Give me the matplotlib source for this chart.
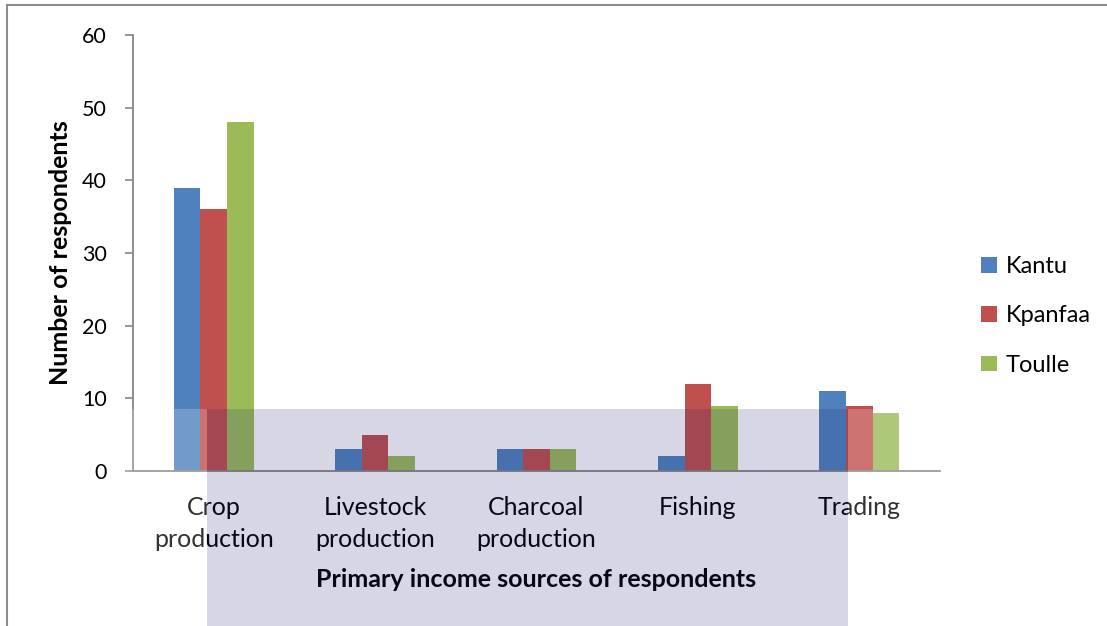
import numpy as np
import matplotlib.pyplot as plt
from matplotlib.patches import Rectangle
from matplotlib.lines import Line2D

# Chart data
categories = ['Crop\nproduction', 'Livestock\nproduction', 'Charcoal\nproduction', 'Fishing', 'Trading']
series_names = ['Kantu', 'Kpanfaa', 'Toulle']
kantu = [39, 3, 3, 2, 11]
kpanfaa = [36, 5, 3, 12, 9]
toulle = [48, 2, 3, 9, 8]
yticks = [0, 10, 20, 30, 40, 50, 60]

colors = ['#4F81BD', '#C0504D', '#9BBB59']
plt.rcParams['font.family'] = ['Lato', 'DejaVu Sans']

fig = plt.figure(figsize=(11.07, 6.26), dpi=100)
ax = fig.add_axes([133 / 1107, 1 - 471 / 626, (940 - 133) / 1107, (471 - 35) / 626])

x = np.arange(len(categories))
w = 0.165
for i, (vals, name) in enumerate(zip([kantu, kpanfaa, toulle], series_names)):
  ax.bar(x + (i - 1) * w, vals, width=w, color=colors[i], label=name, zorder=2)

ax.set_xlim(-0.5, len(categories) - 0.5)
ax.set_ylim(0, 60)
ax.set_yticks(yticks)
ax.set_xticks(x)
ax.set_xticklabels(categories, fontsize=18, linespacing=1.48)
ax.tick_params(axis='x', length=0, pad=18)
ax.tick_params(axis='y', length=6, width=1.2, color='#868686', pad=13, labelsize=15.5)

for s in ['top', 'right']:
  ax.spines[s].set_visible(False)
for s in ['left', 'bottom']:
  ax.spines[s].set_color('#868686')
  ax.spines[s].set_linewidth(1.3)

ax.set_ylabel('Number of respondents', fontsize=18, fontweight='bold', labelpad=7)
ax.set_xlabel('Primary income sources of respondents', fontsize=18, fontweight='bold', labelpad=12)

leg = ax.legend(loc='center left', bbox_to_anchor=(960 / 1107, 1 - 316 / 626),
                bbox_transform=fig.transFigure, frameon=False, fontsize=17,
                handlelength=0.65, handleheight=0.65, handletextpad=0.4,
                labelspacing=1.2)

# page frame lines
fig.add_artist(Line2D([7 / 1107, 7 / 1107], [0, 1 - 5 / 626], color='#8c8c8c', lw=1.5))
fig.add_artist(Line2D([7 / 1107, 1], [1 - 5 / 626, 1 - 5 / 626], color='#8c8c8c', lw=1.5))

# faint watermark band over the lower part
band_top = 1 - 409 / 626
fig.add_artist(Rectangle((207 / 1107, 0), (848 - 207) / 1107, band_top,
                         transform=fig.transFigure, facecolor=(0.153, 0.153, 0.443),
                         alpha=0.19, edgecolor='none', zorder=10))
for x0, x1 in [(125, 207), (848, 990)]:
  fig.add_artist(Rectangle((x0 / 1107, 0), (x1 - x0) / 1107, band_top,
                           transform=fig.transFigure, facecolor='white',
                           alpha=0.2, edgecolor='none', zorder=10))

fig.savefig('out.png', dpi=100)
